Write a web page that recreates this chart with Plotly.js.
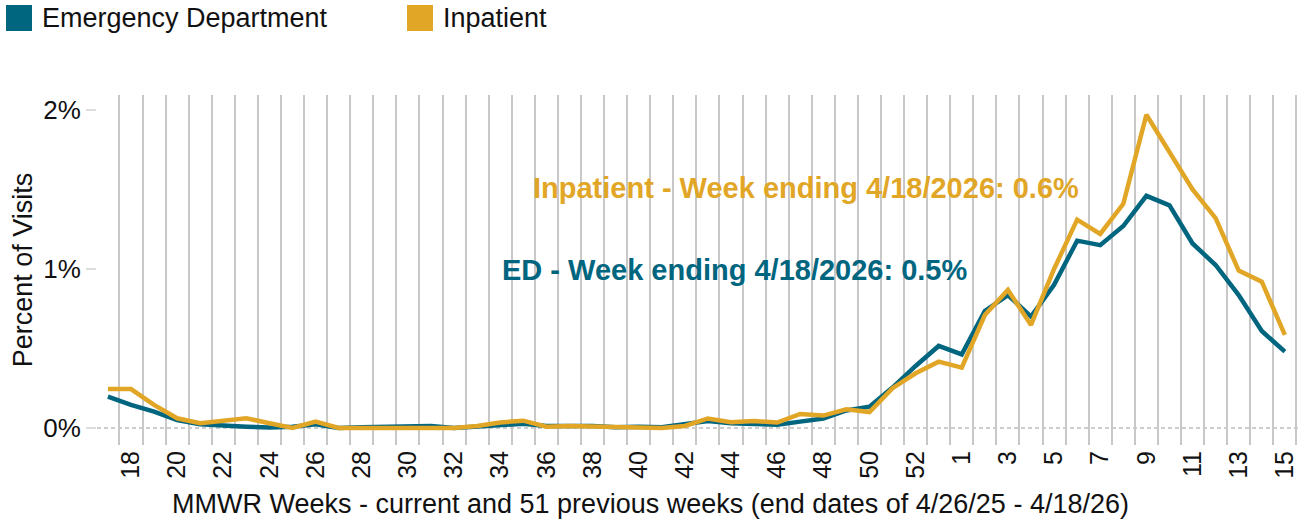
<!DOCTYPE html>
<html>
<head>
<meta charset="utf-8">
<script src="https://cdn.plot.ly/plotly-3.0.1.min.js"></script>
<style>
  html, body { margin: 0; padding: 0; background: #fff; }
  #chart { width: 1301px; height: 522px; }
</style>
</head>
<body>
<div id="chart"></div>
<script>
// MMWR weeks as labelled on the chart (current week and 51 previous)
const weeks = ['17','18','19','20','21','22','23','24','25','26','27','28','29','30','31','32','33','34','35',
  '36','37','38','39','40','41','42','43','44','45','46','47','48','49','50','51','52','53',
  '1','2','3','4','5','6','7','8','9','10','11','12','13','14','15'];

// percent of visits
const edPct = [0.197, 0.145, 0.103, 0.05, 0.023, 0.019, 0.008, 0.003, 0.008, 0.023,
  0.0, 0.005, 0.008, 0.006, 0.012, 0.0, 0.008, 0.023, 0.027, 0.013,
  0.015, 0.013, 0.004, 0.008, 0.004, 0.023, 0.044, 0.03, 0.023, 0.02,
  0.04, 0.06, 0.11, 0.134, 0.254, 0.39, 0.516, 0.463, 0.736, 0.836,
  0.70, 0.90, 1.178, 1.15, 1.27, 1.46, 1.40, 1.16, 1.025, 0.836,
  0.61, 0.48];

const inpatientPct = [0.245, 0.245, 0.145, 0.061, 0.03, 0.044, 0.061, 0.03, 0.0, 0.04,
  0.0, 0.0, 0.0, 0.0, 0.0, 0.0, 0.012, 0.035, 0.046, 0.008,
  0.013, 0.01, 0.008, 0.0, 0.0, 0.013, 0.06, 0.036, 0.044, 0.034,
  0.088, 0.078, 0.117, 0.1, 0.25, 0.344, 0.417, 0.38, 0.71, 0.868,
  0.648, 1.0, 1.31, 1.22, 1.41, 1.97, 1.74, 1.50, 1.32, 0.99,
  0.92, 0.585];

const yTicks = [0, 1, 2];
const edLabel = 'ED - Week ending 4/18/2026: 0.5%';
const inpatientLabel = 'Inpatient - Week ending 4/18/2026: 0.6%';
const xTitle = 'MMWR Weeks - current and 51 previous weeks (end dates of 4/26/25 - 4/18/26)';

const TEAL = '#00657f';
const GOLD = '#e2a627';
const FONT = 'Liberation Sans, Arial, sans-serif';

const W = 1301, H = 522;
const margin = { l: 97, r: 0, t: 95, b: 77 };
const plotW = W - margin.l - margin.r;
const plotH = H - margin.t - margin.b;

// pixel -> paper coords, for the hand-made legend and titles
const px = x => (x - margin.l) / plotW;
const py = y => (H - margin.b - y) / plotH;

const idx = weeks.map((w, i) => i);
const oddIdx = idx.filter(i => i % 2 === 1);

const traces = [
  {
    x: idx, y: edPct, name: 'Emergency Department',
    type: 'scatter', mode: 'lines',
    line: { color: TEAL, width: 4.5 },
    showlegend: false, hoverinfo: 'skip'
  },
  {
    x: idx, y: inpatientPct, name: 'Inpatient',
    type: 'scatter', mode: 'lines',
    line: { color: GOLD, width: 4.5 },
    showlegend: false, hoverinfo: 'skip'
  }
];

const legendItems = [
  { name: 'Emergency Department', color: TEAL, x: 6 },
  { name: 'Inpatient', color: GOLD, x: 407 }
];

const shapes = [
  {
    type: 'line', xref: 'paper', yref: 'y', x0: 0, x1: 1, y0: 0, y1: 0,
    line: { color: '#bdbdbd', width: 1.5, dash: '4px,3px' }, layer: 'below'
  }
];
legendItems.forEach(item => {
  shapes.push({
    type: 'rect', xref: 'paper', yref: 'paper',
    x0: px(item.x), x1: px(item.x + 26), y0: py(31), y1: py(5),
    fillcolor: item.color, line: { width: 0 }
  });
});

const annotations = [
  {
    x: 30.25, y: 1.51, xref: 'x', yref: 'y', text: inpatientLabel, showarrow: false,
    xanchor: 'center', yanchor: 'middle',
    font: { family: FONT, size: 29, color: GOLD, weight: 700 }
  },
  {
    x: 27.15, y: 0.994, xref: 'x', yref: 'y', text: edLabel, showarrow: false,
    xanchor: 'center', yanchor: 'middle',
    font: { family: FONT, size: 29, color: TEAL, weight: 700 }
  },
  {
    // x title is centred on the whole figure, not the plot area
    x: px(W / 2), y: py(504), xref: 'paper', yref: 'paper', text: xTitle, showarrow: false,
    xanchor: 'center', yanchor: 'middle',
    font: { family: FONT, size: 27, color: '#111' }
  }
];
legendItems.forEach(item => {
  annotations.push({
    x: px(item.x + 34), y: py(18), xref: 'paper', yref: 'paper',
    text: item.name, showarrow: false, xanchor: 'left', yanchor: 'middle',
    font: { family: FONT, size: 27, color: '#111' }
  });
});

const layout = {
  width: W, height: H,
  margin: margin,
  paper_bgcolor: '#fff',
  plot_bgcolor: '#fff',
  font: { family: FONT, size: 25, color: '#111' },
  showlegend: false,
  xaxis: {
    range: [-0.473, 51.7],
    tickmode: 'array',
    tickvals: oddIdx,
    ticktext: oddIdx.map(i => weeks[i]),
    tickangle: -90,
    ticks: '',
    ticklabeloverflow: 'allow',
    showgrid: false,
    zeroline: false,
    showline: false,
    tickfont: { size: 25 },
    minor: { tick0: 0.5, dtick: 1, showgrid: true, gridcolor: '#c8c8c8', gridwidth: 2 },
    automargin: false,
    fixedrange: true
  },
  yaxis: {
    range: [-0.107, 2.094],
    tickmode: 'array',
    tickvals: yTicks,
    ticktext: yTicks.map(v => v + '%'),
    ticks: 'outside',
    ticklen: 10,
    tickwidth: 1.5,
    tickcolor: '#dddddd',
    showgrid: false,
    zeroline: false,
    showline: false,
    tickfont: { size: 26 },
    title: { text: 'Percent of Visits', font: { size: 27 }, standoff: 2 },
    automargin: false,
    fixedrange: true
  },
  shapes: shapes,
  annotations: annotations
};

Plotly.newPlot('chart', traces, layout, { displayModeBar: false, staticPlot: true });
</script>
</body>
</html>
